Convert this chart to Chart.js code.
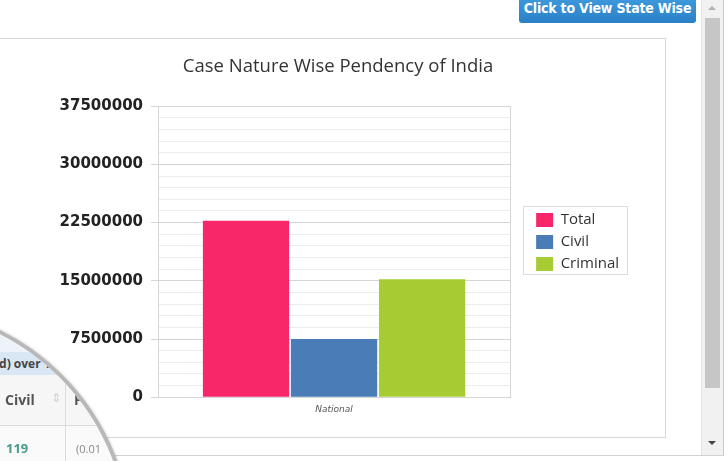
<!DOCTYPE html>
<html>
<head>
<meta charset="utf-8">
<title>Case Nature Wise Pendency of India</title>
<script src="https://cdn.jsdelivr.net/npm/chart.js@4.4.1/dist/chart.umd.min.js"></script>
<style>
    html, body { margin: 0; padding: 0; background: #fff; }
    body { width: 728px; height: 461px; overflow: hidden; position: relative; font-family: "Open Sans", sans-serif; }
    #btn { position: absolute; left: 519px; top: 0; width: 177px; height: 23px; border-radius: 0 0 3px 3px;
        background: linear-gradient(#3c97db, #2a80c6); color: #fff; text-align: center; line-height: 22px;
        font: bold 14px "Liberation Sans Narrow", "DejaVu Sans Condensed", sans-serif; letter-spacing: -0.2px; }
    #box { position: absolute; left: -2px; top: 38px; width: 666px; height: 398px; border: 1px solid #d8d8d8; background: #fff; }
    #chartWrap { position: absolute; left: 0; top: 38px; width: 665px; height: 399px; }
    #baseLine { position: absolute; left: 0; top: 455px; width: 724px; height: 1px; background: #d2d2d2; }
    #sb { position: absolute; left: 701px; top: 0; width: 21px; height: 455px; background: #f1f1f1;
        border-left: 1px solid #e4e4e4; border-right: 1px solid #c8c8c8; }
    #thumb { position: absolute; left: 3px; top: 18px; width: 15px; height: 370px; background: #c6c6c6; }
    .arrow { position: absolute; left: 6px; width: 0; height: 0; border-left: 4px solid transparent; border-right: 4px solid transparent; }
    #up { top: 6px; border-bottom: 4px solid #b0b0b0; }
    #down { top: 441px; border-top: 4px solid #444; }
    #lens { position: absolute; left: -344px; top: 305px; width: 468px; height: 468px; border-radius: 50%;
        border: 4px solid #b8b8b8; overflow: hidden; background: #fafafa; box-shadow: 0 0 3px rgba(0,0,0,0.25); }
    #lens div { position: absolute; }
    #lensTop { left: 0; top: 0; width: 468px; height: 43px; background: #edf3f9; }
    #lensBand { left: 0; top: 43px; width: 468px; height: 23px; background: #d9e6f3; }
    #lensBand span { position: absolute; left: 332px; top: 3px; font: bold 12px "Open Sans", sans-serif; color: #444; white-space: nowrap; }
    #lensHead { left: 0; top: 66px; width: 468px; height: 50px; background: #f6f6f6; border-bottom: 1px solid #dadada; }
    #lensDiv { left: 405px; top: 66px; width: 1px; height: 120px; background: #dcdcdc; }
    .lt { white-space: nowrap; }
</style>
</head>
<body>
<div id="btn">Click to View State Wise</div>
<div id="box"></div>
<div id="baseLine"></div>
<div id="chartWrap"><canvas id="pendencyChart"></canvas></div>
<div id="sb"><div id="thumb"></div><div class="arrow" id="up"></div><div class="arrow" id="down"></div></div>
<div id="lens">
    <div id="lensTop"></div>
    <div id="lensBand"><span>ed) over 1</span></div>
    <div id="lensHead"></div>
    <div id="lensDiv"></div>
    <div class="lt" style="left:345px; top:81px; font:bold 14px 'Open Sans',sans-serif; color:#555;">Civil</div>
    <div class="lt" style="left:391px; top:82px; font:12px 'DejaVu Sans',sans-serif; color:#cfcfcf;">⇕</div>
    <div class="lt" style="left:414px; top:81px; font:bold 14px 'Open Sans',sans-serif; color:#555;">P</div>
    <div class="lt" style="left:346px; top:130px; font:bold 13px 'Open Sans',sans-serif; color:#4a9b8d;">119</div>
    <div class="lt" style="left:416px; top:132px; font:11px 'Open Sans',sans-serif; color:#888;">(0.01</div>
</div>
<script>
document.addEventListener('DOMContentLoaded', function() {
    const categories = ['National'];
    const seriesNames = ['Total', 'Civil', 'Criminal'];
    const totalCases = [22750000];
    const civilCases = [7500000];
    const criminalCases = [15200000];
    const yTickLabels = [0, 7500000, 15000000, 22500000, 30000000, 37500000];
    const minorSteps = 5; // light lines between the labelled ones

    const majorStep = yTickLabels[1] - yTickLabels[0];
    const isMajor = v => yTickLabels.includes(v);

    const data = {
        labels: categories,
        datasets: [
            { label: seriesNames[0], data: totalCases, backgroundColor: '#f8276a' },
            { label: seriesNames[1], data: civilCases, backgroundColor: '#4a7cb8' },
            { label: seriesNames[2], data: criminalCases, backgroundColor: '#a7cc33' }
        ]
    };

    // nudges title and legend to where the original has them, frames the legend
    const legendFrame = {
        id: 'legendFrame',
        afterLayout(chart) {
            const tb = chart.titleBlock;
            tb.left += 11; tb.right += 11;

            const lg = chart.legend;
            const pad = lg.options.labels.padding;
            const colH = lg.columnSizes && lg.columnSizes.length ? lg.columnSizes[0].height : 0;
            const firstTop = (lg.top + pad + lg.bottom - colH) / 2;
            const dy = 174.5 - firstTop;
            lg.left += 19; lg.right += 19;
            lg.top += dy; lg.bottom += dy;
        },
        afterDraw(chart) {
            const hb = chart.legend.legendHitBoxes;
            if (!hb || !hb.length) return;
            const ctx = chart.ctx;
            ctx.save();
            ctx.strokeStyle = '#dcdcdc';
            ctx.lineWidth = 1;
            ctx.strokeRect(Math.round(hb[0].left) - 12.5, Math.round(hb[0].top) - 6.5, 104, 68);
            ctx.restore();
        }
    };

    const options = {
        responsive: true,
        maintainAspectRatio: false,
        animation: false,
        layout: { padding: { left: 44, right: 55, top: 0, bottom: 15 } },
        datasets: { bar: { categoryPercentage: 0.75, barPercentage: 0.98 } },
        plugins: {
            title: {
                display: true,
                text: 'Case Nature Wise Pendency of India',
                color: '#333',
                font: { family: 'Open Sans', size: 18.5, weight: 'normal' },
                padding: { top: 18, bottom: 28 }
            },
            legend: {
                position: 'right',
                labels: {
                    boxWidth: 17,
                    boxHeight: 14,
                    padding: 7,
                    color: '#333',
                    font: { family: 'Open Sans', size: 15 }
                }
            },
            tooltip: { enabled: false }
        },
        scales: {
            x: {
                grid: { color: '#d6d6d6', drawTicks: false },
                border: { color: '#d6d6d6' },
                ticks: { padding: 7, color: '#555', font: { family: 'DejaVu Sans', size: 9, style: 'italic' } }
            },
            y: {
                min: 0,
                max: yTickLabels[yTickLabels.length - 1],
                afterFit: function(scale) { scale.width = 114; },
                border: { color: '#d6d6d6' },
                grid: {
                    color: c => isMajor(c.tick.value) ? '#d6d6d6' : '#ececec',
                    tickColor: c => isMajor(c.tick.value) ? '#d6d6d6' : 'rgba(0,0,0,0)',
                    tickLength: 7
                },
                ticks: {
                    stepSize: majorStep / minorSteps,
                    autoSkip: false,
                    padding: 8,
                    color: '#222',
                    font: { family: 'DejaVu Sans', size: 15, weight: 'bold' },
                    callback: v => isMajor(v) ? String(v) : ''
                }
            }
        }
    };

    const ctx = document.getElementById('pendencyChart').getContext('2d');
    new Chart(ctx, {
        type: 'bar',
        data: data,
        options: options,
        plugins: [legendFrame]
    });
});
</script>
</body>
</html>
